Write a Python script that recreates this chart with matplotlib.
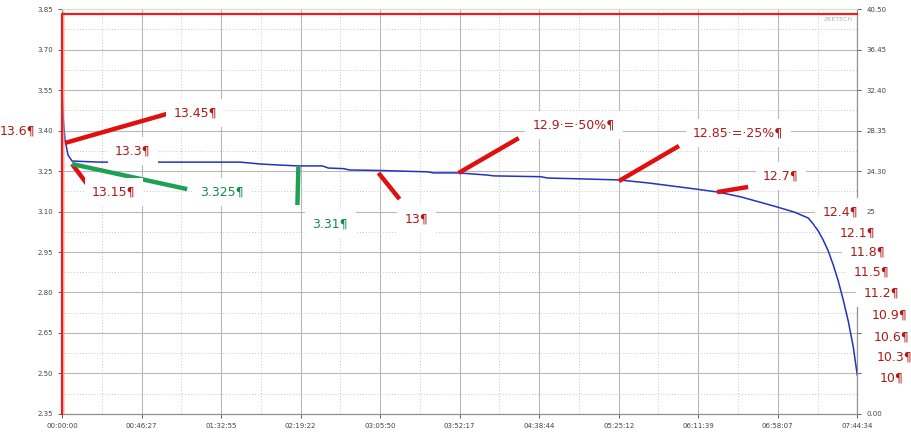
import matplotlib

matplotlib.use("Agg")
import matplotlib.pyplot as plt
import numpy as np
from matplotlib.ticker import FixedLocator, FuncFormatter

# discharge curve (seconds, cell voltage)
time_s = [0, 35, 105, 211, 351, 1334, 6249, 6951, 7653, 8285, 9128, 9338, 9865,
          10075, 11164, 12814, 13024, 13902, 14920, 15131, 16781, 17026, 18185,
          19519, 20537, 21941, 22994, 23802, 24960, 25662, 26154, 26330, 26505,
          26681, 26856, 27032, 27207, 27383, 27558, 27734, 27874]
voltage = [3.557, 3.457, 3.365, 3.309, 3.287, 3.283, 3.283, 3.276, 3.272, 3.269,
           3.269, 3.261, 3.259, 3.254, 3.252, 3.247, 3.243, 3.243, 3.235, 3.232,
           3.229, 3.224, 3.221, 3.217, 3.206, 3.187, 3.172, 3.154, 3.120, 3.098,
           3.076, 3.054, 3.028, 2.994, 2.954, 2.902, 2.843, 2.772, 2.694, 2.598,
           2.494]

# current trace on the right axis
current_t = [0, 0, 27874]
current_a = [0.0, 40.0, 40.0]

t_end = 27874
x_ticks = np.linspace(0, t_end, 11)
left_ticks = [2.35, 2.50, 2.65, 2.80, 2.95, 3.10, 3.25, 3.40, 3.55, 3.70, 3.85]
right_ticks = [0.00, 4.05, 8.10, 12.15, 16.20, 20.25, 24.30, 28.35, 32.40, 36.45, 40.50]
# labels hidden behind the note boxes in the screenshot
right_labels = ["0.00", "", "", "", "", "25", "24.30", "28.35", "32.40", "36.45", "40.50"]

# pointer lines: (t0, v0, t1, v1, colour)
pointers = [
    (105, 3.354, 3791, 3.465, "red"),
    (351, 3.276, 983, 3.187, "red"),
    (351, 3.276, 4388, 3.183, "green"),
    (8285, 3.265, 8250, 3.124, "green"),
    (11093, 3.243, 11831, 3.146, "red"),
    (13902, 3.243, 16008, 3.372, "red"),
    (19519, 3.213, 21625, 3.343, "red"),
    (22959, 3.172, 24048, 3.191, "red"),
]

# text notes: (text, t, v, colour)
notes = [
    ("13.6¶", -2177, 3.398, "red"),
    ("13.45¶", 3897, 3.465, "red"),
    ("13.3¶", 1861, 3.324, "red"),
    ("13.15¶", 1053, 3.172, "red"),
    ("3.325¶", 4845, 3.172, "green"),
    ("3.31¶", 8777, 3.054, "green"),
    ("13¶", 12006, 3.072, "red"),
    ("12.9·=·50%¶", 16500, 3.420, "red"),
    ("12.85·=·25%¶", 22117, 3.391, "red"),
    ("12.7¶", 24574, 3.232, "red"),
    ("12.4¶", 26645, 3.098, "red"),
    ("12.1¶", 27242, 3.020, "red"),
    ("11.8¶", 27593, 2.950, "red"),
    ("11.5¶", 27733, 2.876, "red"),
    ("11.2¶", 28085, 2.798, "red"),
    ("10.9¶", 28366, 2.717, "red"),
    ("10.6¶", 28436, 2.635, "red"),
    ("10.3¶", 28541, 2.561, "red"),
    ("10¶", 28646, 2.483, "red"),
]

line_colours = {"red": "#e01010", "green": "#1fa055"}
text_colours = {"red": "#b01818", "green": "#1a8a4a"}


def fmt_time(sec, _pos=None):
    sec = int(round(sec))
    return f"{sec // 3600:02d}:{sec % 3600 // 60:02d}:{sec % 60:02d}"


fig = plt.figure(figsize=(9.12, 4.33), dpi=100)
ax = fig.add_axes([0.068, 0.044, 0.872, 0.935])
ax2 = ax.twinx()

ax.set_xlim(0, t_end)
ax.set_ylim(2.35, 3.85)
ax2.set_ylim(0, 40.5)

ax.xaxis.set_major_locator(FixedLocator(x_ticks))
ax.xaxis.set_minor_locator(FixedLocator((x_ticks[:-1] + x_ticks[1:]) / 2))
ax.xaxis.set_major_formatter(FuncFormatter(fmt_time))
ax.yaxis.set_major_locator(FixedLocator(left_ticks))
minor_y = [(a + b) / 2 for a, b in zip(left_ticks[:-1], left_ticks[1:])]
ax.yaxis.set_minor_locator(FixedLocator(minor_y))
ax.yaxis.set_major_formatter(FuncFormatter(lambda v, p: f"{v:.2f}"))
ax2.set_yticks(right_ticks)
ax2.set_yticklabels(right_labels)

ax.grid(which="major", color="#b8b8b8", lw=0.8, ls="-")
ax.grid(which="minor", color="#c8c8c8", lw=0.7, ls=(0, (1, 2)))
ax.set_axisbelow(True)

for a in (ax, ax2):
    a.tick_params(which="major", labelsize=5, colors="#444444", length=3, width=0.6)
    a.tick_params(which="minor", length=0)
    for side, sp in a.spines.items():
        sp.set_color("#909090")
        sp.set_linewidth(0.8)
ax.spines["top"].set_color("#d8e0d0")
ax2.spines["top"].set_color("#d8e0d0")

ax.plot(time_s, voltage, color="#2233c0", lw=1.1, zorder=3)
ax2.plot(current_t, current_a, color="#ee1c1c", lw=1.6, zorder=3, clip_on=False)
ax2.plot(current_t[:2], current_a[:2], color="#f4a0a0", lw=4, zorder=2, alpha=0.6)

for t0, v0, t1, v1, c in pointers:
    ax2.plot([t0, t1], [v0, v1], color=line_colours[c], lw=3.2,
             transform=ax.transData, zorder=6, solid_capstyle="butt")

for text, t, v, c in notes:
    # the note left of the axis must not hide the 3.40 tick label
    pad = 0.1 if t < 0 else 0.6
    ax2.text(t, v, text, transform=ax.transData, ha="left", va="center",
             fontsize=9, color=text_colours[c], zorder=10, clip_on=False,
             bbox=dict(boxstyle=f"square,pad={pad}", fc="white", ec="none"))

ax.text(0.995, 0.98, "ZKETECH", transform=ax.transAxes, ha="right", va="top",
        fontsize=4.5, color="#b0b0b0")
fig.text(0.495, 0.995, "EB Tester Software", ha="center", va="bottom",
         fontsize=7, color="#a0a0a0")

fig.savefig("out.png", dpi=100)
